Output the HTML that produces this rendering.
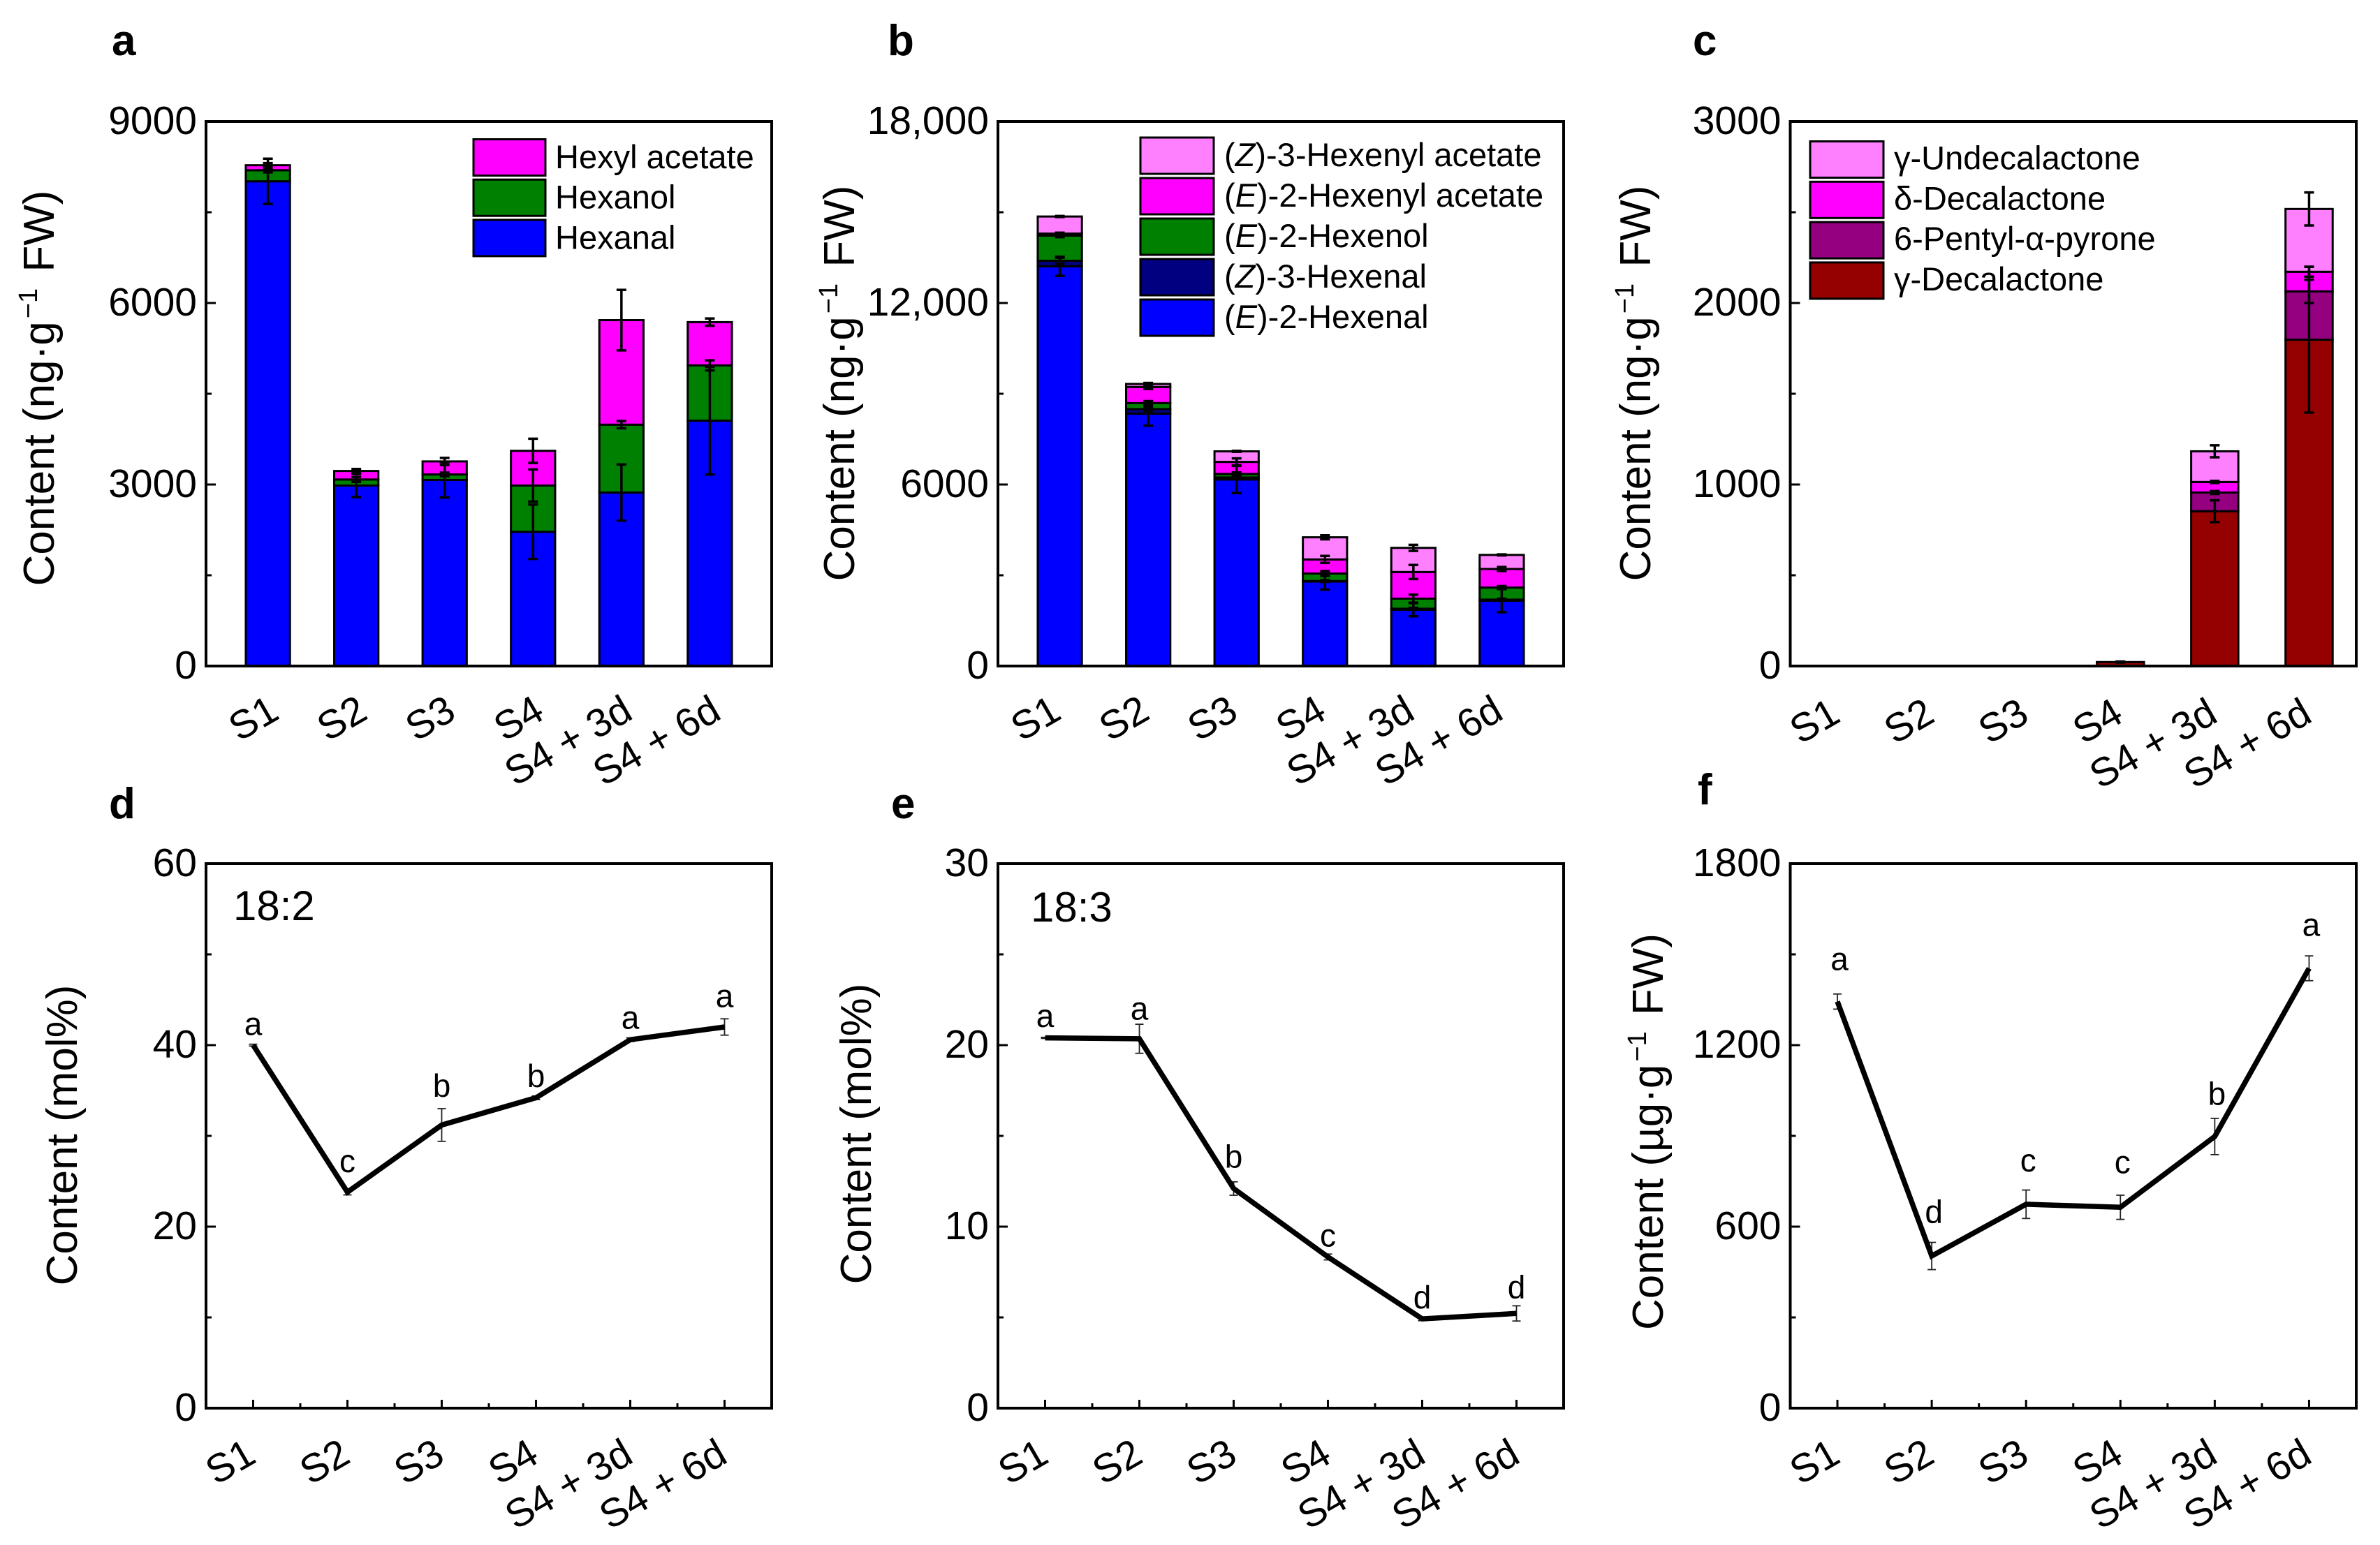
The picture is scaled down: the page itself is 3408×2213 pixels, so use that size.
<!DOCTYPE html>
<html lang="en">
<head>
<meta charset="utf-8">
<title>Volatile and fatty acid content across stages</title>
<style>
html,body{margin:0;padding:0;background:#fff;}
svg{display:block;font-family:"Liberation Sans",Arial,sans-serif;}
</style>
</head>
<body>
<svg id="figure" xmlns="http://www.w3.org/2000/svg" width="3408" height="2213" viewBox="0 0 3408 2213"></svg>
<script>
const categories = ['S1', 'S2', 'S3', 'S4', 'S4 + 3d', 'S4 + 6d'];

// Panel a
const aTicks = ['0', '3000', '6000', '9000'];
const aHexanal = [8011, 2983, 3075, 2219, 2867, 4055];
const aHexanol = [183, 100, 91, 764, 1122, 914];
const aHexylAcetate = [83, 141, 216, 574, 1728, 715];
const aHexanalErr = [374, 191, 290, 449, 465, 890];
const aHexanolErr = [35, 40, 30, 266, 60, 83];
const aHexylAcetateErr = [35, 33, 58, 200, 500, 60];

// Panel b
const bTicks = ['0', '6000', '12,000', '18,000'];
const bEHexenal = [13213, 8343, 6166, 2792, 1861, 2161];
const bZHexenal = [183, 150, 67, 17, 34, 33];
const bEHexenol = [831, 199, 116, 249, 332, 399];
const bEAcetate = [67, 532, 399, 466, 881, 615];
const bZAcetate = [565, 100, 349, 731, 798, 465];
const bEHexenalErr = [316, 399, 449, 266, 216, 382];
const bZHexenalErr = [100, 66, 50, 30, 30, 30];
const bEHexenolErr = [50, 66, 50, 83, 133, 50];
const bEAcetateErr = [30, 66, 116, 116, 233, 66];
const bZAcetateErr = [17, 33, 17, 66, 100, 17];

// Panel c
const cTicks = ['0', '1000', '2000', '3000'];
const cGammaDeca = [0, 0, 0, 22, 853, 1798];
const cPyrone = [0, 0, 0, 0, 103, 266];
const cDeltaDeca = [0, 0, 0, 0, 58, 108];
const cGammaUndeca = [0, 0, 0, 0, 169, 346];
const cGammaDecaErr = [0, 0, 0, 3, 60, 402];
const cPyroneErr = [0, 0, 0, 0, 8, 64];
const cDeltaDecaErr = [0, 0, 0, 0, 6, 27];
const cGammaUndecaErr = [0, 0, 0, 0, 33, 91];

// Panel d
const dTicks = ['0', '20', '40', '60'];
const dValues = [40.0, 23.8, 31.2, 34.2, 40.6, 42.0];
const dErr = [0.1, 0.3, 1.8, 0.2, 0.2, 0.9];
const dLetters = ['a', 'c', 'b', 'b', 'a', 'a'];
const dLetterLevels = [41.1, 26.0, 34.3, 35.4, 41.8, 44.2];

// Panel e
const eTicks = ['0', '10', '20', '30'];
const eValues = [20.4, 20.35, 12.1, 8.33, 4.92, 5.22];
const eErr = [0.03, 0.8, 0.37, 0.16, 0.1, 0.42];
const eLetters = ['a', 'a', 'b', 'c', 'd', 'd'];
const eLetterLevels = [21.0, 21.4, 13.25, 8.9, 5.5, 6.06];

// Panel f
const fTicks = ['0', '600', '1200', '1800'];
const fValues = [1344, 503, 674, 664, 898, 1454];
const fErr = [25, 45, 47, 40, 60, 41];
const fLetters = ['a', 'd', 'c', 'c', 'b', 'a'];
const fLetterLevels = [1448, 613, 782, 776, 1003, 1561];

const NS = 'http://www.w3.org/2000/svg';
const root = document.getElementById('figure');
const FONT_TICK = 57;
const FONT_TITLE = 62;
const FONT_LEGEND = 47;

function mk(tag, parent) {
  const e = document.createElementNS(NS, tag);
  parent.appendChild(e);
  return e;
}
function drawLine(parent, x1, y1, x2, y2, w, color) {
  const l = mk('line', parent);
  l.setAttribute('x1', x1);
  l.setAttribute('y1', y1);
  l.setAttribute('x2', x2);
  l.setAttribute('y2', y2);
  l.setAttribute('stroke', color);
  l.setAttribute('stroke-width', w);
  return l;
}
function drawText(parent, x, y, str, size, anchor, weight) {
  const t = mk('text', parent);
  t.setAttribute('x', x);
  t.setAttribute('y', y);
  t.setAttribute('font-size', size);
  t.setAttribute('text-anchor', anchor || 'start');
  if (weight) t.setAttribute('font-weight', weight);
  t.setAttribute('fill', '#000');
  if (str !== null) t.textContent = str;
  return t;
}
function drawRect(parent, x, y, w, h, fill, sw) {
  const r = mk('rect', parent);
  r.setAttribute('x', x);
  r.setAttribute('y', y);
  r.setAttribute('width', w);
  r.setAttribute('height', h);
  r.setAttribute('fill', fill);
  r.setAttribute('stroke', '#000');
  r.setAttribute('stroke-width', sw);
  return r;
}
function scales(p) {
  const yMax = p.yMax;
  return {
    x: function (i) { return p.left + (i + 1 - p.xMin) / (p.xMax - p.xMin) * (p.right - p.left); },
    y: function (v) { return p.bottom - v / yMax * (p.bottom - p.top); }
  };
}
function frameAndAxes(p, g, s) {
  const tickCount = p.ticks.length - 1;
  for (let i = 0; i <= tickCount * 2; i++) {
    const v = p.yMax * i / (tickCount * 2);
    const major = i % 2 === 0;
    const tick = drawLine(g, p.left, s.y(v), p.left + (major ? 14 : 8), s.y(v), 3, '#000');
    
    
  }
  p.ticks.forEach(function (label, i) {
    const v = p.yMax * i / tickCount;
    const t = drawText(g, p.left - 13, s.y(v) + 18, label, FONT_TICK, 'end');
    
    
  });
  if (p.xTicks) {
    categories.forEach(function (c, i) {
      const tick = drawLine(g, s.x(i), p.bottom, s.x(i), p.bottom - 12, 3, '#000');
      
      
      if (i < categories.length - 1) {
        const minor = drawLine(g, (s.x(i) + s.x(i + 1)) / 2, p.bottom, (s.x(i) + s.x(i + 1)) / 2, p.bottom - 7, 3, '#000');
        
        
      }
    });
  }
  categories.forEach(function (c, i) {
    const ax = s.x(i) + p.labelDx;
    const ay = p.bottom + p.labelDy;
    const t = drawText(g, ax, ay, c, FONT_TICK, 'end');
    t.setAttribute('transform', 'rotate(-30 ' + ax + ' ' + ay + ')');
    
    
  });
  const title = drawText(g, p.titleX, p.titleY, null, FONT_TITLE, 'middle');
  title.setAttribute('transform', 'rotate(-90 ' + p.titleX + ' ' + p.titleY + ')');
  
  
  const pre = mk('tspan', title);
  pre.textContent = p.titlePre;
  if (p.titleSup) {
    const sup = mk('tspan', title);
    sup.setAttribute('font-size', 38);
    sup.setAttribute('dy', -24);
    sup.setAttribute('dx', 4);
    sup.textContent = '\u22121';
    const post = mk('tspan', title);
    post.setAttribute('dy', 24);
    post.setAttribute('dx', 6);
    post.textContent = p.titlePost;
  }
  const border = mk('rect', g);
  border.setAttribute('x', p.left);
  border.setAttribute('y', p.top);
  border.setAttribute('width', p.right - p.left);
  border.setAttribute('height', p.bottom - p.top);
  border.setAttribute('fill', 'none');
  border.setAttribute('stroke', '#000');
  border.setAttribute('stroke-width', 4);
  
  
  const letter = drawText(g, p.letterX, p.letterY, p.letter, 62, 'start', 'bold');
  
  
}
function errorBar(g, x, yTop, yBot, w, cap, color) {
  const group = mk('g', g);
  
  
  drawLine(group, x, yTop, x, yBot, w, color);
  drawLine(group, x - cap, yTop, x + cap, yTop, w, color);
  drawLine(group, x - cap, yBot, x + cap, yBot, w, color);
}
function stackedPanel(p) {
  const g = mk('g', root);
  
  
  const s = scales(p);
  const barW = (s.x(1) - s.x(0)) * 0.5;
  const errs = [];
  categories.forEach(function (c, i) {
    let cum = 0;
    p.series.forEach(function (ser) {
      const v = ser.values[i];
      if (v <= 0) return;
      const top = cum + v;
      const bar = drawRect(g, s.x(i) - barW / 2, s.y(top), barW, s.y(cum) - s.y(top), ser.color, 3);
      
      
      errs.push([s.x(i), s.y(top + ser.err[i]), s.y(top - ser.err[i])]);
      cum = top;
    });
  });
  errs.forEach(function (e) { errorBar(g, e[0], e[1], e[2], 3.5, 7, '#000'); });
  const legend = mk('g', g);
  
  
  const top2bottom = p.series.slice().reverse();
  top2bottom.forEach(function (ser, i) {
    const entry = mk('g', legend);
    
    
    const sy = p.legendY + i * p.legendStep;
    const sw = drawRect(entry, p.legendX, sy, p.legendW, 52, ser.color, 3);
    
    
    const t = drawText(entry, p.legendTextX, sy + p.legendBase, null, FONT_LEGEND, 'start');
    
    
    ser.label.split('*').forEach(function (part, k) {
      if (!part) return;
      const span = mk('tspan', t);
      if (k % 2 === 1) span.setAttribute('font-style', 'italic');
      span.textContent = part;
    });
  });
  frameAndAxes(p, g, s);
}
function linePanel(p) {
  const g = mk('g', root);
  
  
  const s = scales(p);
  frameAndAxes(p, g, s);
  categories.forEach(function (c, i) {
    errorBar(g, s.x(i), s.y(p.values[i] + p.err[i]), s.y(p.values[i] - p.err[i]), 1.8, 6, '#222');
  });
  const path = mk('polyline', g);
  path.setAttribute('points', p.values.map(function (v, i) { return s.x(i) + ',' + s.y(v); }).join(' '));
  path.setAttribute('fill', 'none');
  path.setAttribute('stroke', '#000');
  path.setAttribute('stroke-width', 7.5);
  path.setAttribute('stroke-linejoin', 'miter');
  
  
  p.letters.forEach(function (l, i) {
    const t = drawText(g, s.x(i) + p.letterShift, s.y(p.letterLevels[i]), l, 46, 'middle');
    
    
  });
  if (p.tag) {
    const tag = drawText(g, p.tagX, p.tagY, p.tag, 60, 'start');
    
    
  }
}

stackedPanel({
  letter: 'a', letterX: 160, letterY: 79,
  left: 295, right: 1105, top: 174, bottom: 954, xMin: 0.3, xMax: 6.7, yMax: 9000, ticks: aTicks, xTicks: false,
  labelDx: 19, labelDy: 74,
  titleX: 77, titleY: 556, titlePre: 'Content (ng\u00B7g', titleSup: true, titlePost: ' FW)',
  legendX: 678, legendY: 199.5, legendStep: 57.7, legendW: 103, legendTextX: 795, legendBase: 41.5,
  series: [
    { key: 'hexanal', label: 'Hexanal', color: '#0000ff', values: aHexanal, err: aHexanalErr },
    { key: 'hexanol', label: 'Hexanol', color: '#008000', values: aHexanol, err: aHexanolErr },
    { key: 'hexyl-acetate', label: 'Hexyl acetate', color: '#ff00ff', values: aHexylAcetate, err: aHexylAcetateErr }
  ]
});
stackedPanel({
  letter: 'b', letterX: 1271, letterY: 79,
  left: 1429, right: 2239, top: 174, bottom: 954, xMin: 0.3, xMax: 6.7, yMax: 18000, ticks: bTicks, xTicks: false,
  labelDx: 5, labelDy: 74,
  titleX: 1223, titleY: 549, titlePre: 'Content (ng\u00B7g', titleSup: true, titlePost: ' FW)',
  legendX: 1633, legendY: 197, legendStep: 58, legendW: 105, legendTextX: 1753, legendBase: 41,
  series: [
    { key: 'e-hexenal', label: '(*E*)-2-Hexenal', color: '#0000ff', values: bEHexenal, err: bEHexenalErr },
    { key: 'z-hexenal', label: '(*Z*)-3-Hexenal', color: '#000080', values: bZHexenal, err: bZHexenalErr },
    { key: 'e-hexenol', label: '(*E*)-2-Hexenol', color: '#008000', values: bEHexenol, err: bEHexenolErr },
    { key: 'e-hexenyl-acetate', label: '(*E*)-2-Hexenyl acetate', color: '#ff00ff', values: bEAcetate, err: bEAcetateErr },
    { key: 'z-hexenyl-acetate', label: '(*Z*)-3-Hexenyl acetate', color: '#ff80ff', values: bZAcetate, err: bZAcetateErr }
  ]
});
stackedPanel({
  letter: 'c', letterX: 2424, letterY: 79,
  left: 2563.5, right: 3374, top: 174, bottom: 954, xMin: 0.5, xMax: 6.5, yMax: 3000, ticks: cTicks, xTicks: false,
  labelDx: 7, labelDy: 78,
  titleX: 2363, titleY: 549, titlePre: 'Content (ng\u00B7g', titleSup: true, titlePost: ' FW)',
  legendX: 2592, legendY: 202.5, legendStep: 57.8, legendW: 105, legendTextX: 2712, legendBase: 40,
  series: [
    { key: 'gamma-decalactone', label: '\u03B3-Decalactone', color: '#950000', values: cGammaDeca, err: cGammaDecaErr },
    { key: 'pentyl-pyrone', label: '6-Pentyl-\u03B1-pyrone', color: '#940080', values: cPyrone, err: cPyroneErr },
    { key: 'delta-decalactone', label: '\u03B4-Decalactone', color: '#ff00ff', values: cDeltaDeca, err: cDeltaDecaErr },
    { key: 'gamma-undecalactone', label: '\u03B3-Undecalactone', color: '#ff80ff', values: cGammaUndeca, err: cGammaUndecaErr }
  ]
});
linePanel({
  letter: 'd', letterX: 156, letterY: 1172,
  left: 295, right: 1105, top: 1237, bottom: 2017, xMin: 0.5, xMax: 6.5, yMax: 60, ticks: dTicks, xTicks: true,
  labelDx: 7, labelDy: 76,
  titleX: 110, titleY: 1626, titlePre: 'Content (mol%)', titleSup: false,
  values: dValues, err: dErr, letters: dLetters, letterLevels: dLetterLevels, letterShift: 0,
  tag: '18:2', tagX: 334, tagY: 1318
});
linePanel({
  letter: 'e', letterX: 1276, letterY: 1172,
  left: 1429, right: 2239, top: 1237, bottom: 2017, xMin: 0.5, xMax: 6.5, yMax: 30, ticks: eTicks, xTicks: true,
  labelDx: 8, labelDy: 76,
  titleX: 1247, titleY: 1624, titlePre: 'Content (mol%)', titleSup: false,
  values: eValues, err: eErr, letters: eLetters, letterLevels: eLetterLevels, letterShift: 0,
  tag: '18:3', tagX: 1476, tagY: 1320
});
linePanel({
  letter: 'f', letterX: 2431, letterY: 1152,
  left: 2563.5, right: 3374, top: 1237, bottom: 2017, xMin: 0.5, xMax: 6.5, yMax: 1800, ticks: fTicks, xTicks: true,
  labelDx: 7, labelDy: 76,
  titleX: 2381, titleY: 1621, titlePre: 'Content (\u00B5g\u00B7g', titleSup: true, titlePost: ' FW)',
  values: fValues, err: fErr, letters: fLetters, letterLevels: fLetterLevels, letterShift: 3,
  tag: '', tagX: 0, tagY: 0
});
</script>
</body>
</html>
